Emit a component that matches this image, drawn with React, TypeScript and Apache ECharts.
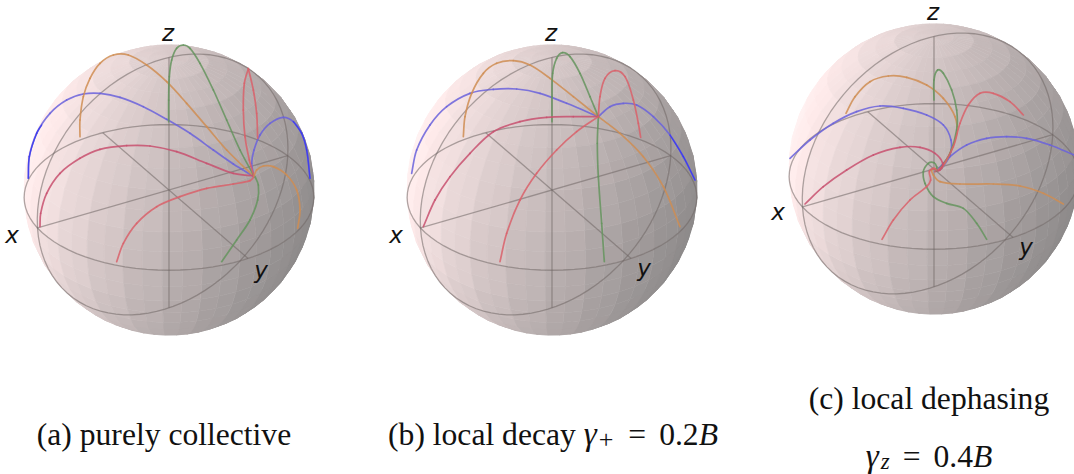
import React, { useEffect, useRef } from "react";
import * as echarts from "echarts";

// Trajectories in thirds of a pixel, relative to each panel's reading window.
type P = number[][];
const aBlueLeft: P = [[85,505],[88,440],[110,370],[150,310],[200,270],[250,252],[300,250],[360,262],[430,290],[500,328],[570,370],[640,420],[700,462],[762,500]];
const aBlueLeftTip: P = [[85,505],[88,440],[110,370],[125,345]];
const aBlueRight: P = [[762,500],[755,460],[762,420],[780,375],[810,340],[850,322],[880,335],[905,370],[920,420],[930,505]];
const aBlueRightTip: P = [[880,335],[905,370],[920,420],[930,505]];
const aOrangeTop: P = [[240,380],[240,330],[250,260],[270,205],[300,160],[340,135],[385,135],[440,165],[500,215],[560,280],[620,350],[680,420],[762,500]];
const aGreenTop: P = [[506,335],[506,270],[508,200],[515,150],[530,115],[550,105],[570,115],[600,160],[640,240],[680,330],[720,420],[762,498]];
const aRedTopRight: P = [[773,385],[770,310],[760,240],[745,176]];
const aRedTopLeft: P = [[745,176],[733,220],[730,300],[735,380],[748,450],[762,498]];
const aPurple: P = [[120,650],[122,610],[140,550],[180,490],[240,445],[300,418],[380,407],[450,408],[530,425],[620,460],[700,490],[762,498]];
const aRedLow: P = [[350,755],[370,700],[410,640],[470,590],[540,560],[620,535],[700,522],[750,512],[762,500]];
const aGreenLow: P = [[665,755],[710,690],[750,630],[773,570],[775,525],[765,500]];
const aOrangeLow: P = [[893,655],[900,600],[890,540],[860,495],[820,470],[790,468],[770,480],[762,498]];

const bBlueLeft: P = [[95,490],[110,420],[150,345],[200,290],[270,250],[340,238],[410,237],[480,250],[560,280],[655,320]];
const bBlueRight: P = [[655,320],[690,290],[730,280],[770,285],[820,320],[870,375],[910,440],[945,510]];
const bBlueRightTip: P = [[870,375],[910,440],[945,510]];
const bOrangeLeft: P = [[250,380],[255,320],[275,250],[310,190],[350,160],[400,152],[450,165],[510,205],[580,260],[655,320]];
const bOrangeRight: P = [[655,320],[720,370],[790,440],[850,530],[900,650]];
const bGreenTop: P = [[516,335],[516,260],[518,190],[530,145],[548,128],[570,140],[600,190],[630,260],[655,320]];
const bGreenLow: P = [[655,320],[652,400],[655,500],[665,640],[673,755]];
const bRedTop: P = [[655,320],[660,260],[675,205],[705,182],[735,200],[760,270],[775,340],[782,382]];
const bPurple: P = [[130,650],[165,570],[210,500],[270,430],[340,365],[420,335],[500,322],[580,320],[655,320]];
const bRedLow: P = [[360,755],[380,670],[420,570],[470,490],[530,420],[590,365],[655,320]];

const cBlueLeft: P = [[90,475],[150,420],[220,370],[290,335],[360,318],[430,325],[500,345],[550,375],[573,420],[570,465],[545,505],[530,513]];
const cBlueRight: P = [[530,513],[570,470],[620,435],[680,415],[740,410],[800,415],[870,435],[942,465]];
const cOrangeTop: P = [[258,340],[285,290],[330,245],[385,228],[440,232],[500,255],[550,295],[585,350],[590,400],[570,460],[545,505],[530,513]];
const cGreenTop: P = [[522,300],[522,240],[533,210],[550,220],[575,270],[590,330],[590,390],[570,460],[540,505]];
const cRedTop: P = [[790,345],[750,305],[700,280],[660,280],[625,315],[600,370],[580,440],[550,495],[530,513]];
const cPurple: P = [[135,612],[190,560],[260,510],[340,465],[420,442],[480,442],[525,460],[548,490],[540,510],[525,515]];
const cGreenLow: P = [[680,718],[650,670],[610,625],[560,610],[520,590],[495,550],[490,515],[505,490],[522,488],[530,500],[530,513]];
const cOrangeLow: P = [[910,612],[850,580],[780,558],[700,552],[600,552],[540,545],[520,525],[515,510],[525,505]];
const cRedLow: P = [[366,718],[400,660],[450,600],[500,560],[512,540],[508,515],[520,505],[530,510]];

const BLUE = "#6a62dc", VIVID = "#3a38f0", ORANGE = "#cf8d52", GREEN = "#65945e", RED = "#d9606a", PURPLE = "#c8506e";

const panels = [
  { cx: 169, cy: 190, ox: 0, oy: 10, labels: [["z",168,33],["x",12,235],["y",261,270]],
    curves: [[aBlueLeft,BLUE],[aBlueLeftTip,VIVID],[aBlueRight,BLUE],[aBlueRightTip,VIVID],[aOrangeTop,ORANGE],[aGreenTop,GREEN],[aRedTopRight,RED],[aRedTopLeft,RED],[aPurple,PURPLE],[aRedLow,RED],[aGreenLow,GREEN],[aOrangeLow,ORANGE]] },
  { cx: 552, cy: 190, ox: 380, oy: 10, labels: [["z",551,33],["x",396,235],["y",644,268]],
    curves: [[bBlueLeft,BLUE],[bBlueRight,BLUE],[bBlueRightTip,VIVID],[bOrangeLeft,ORANGE],[bOrangeRight,ORANGE],[bGreenTop,GREEN],[bGreenLow,GREEN],[bRedTop,RED],[bPurple,PURPLE],[bRedLow,RED]] },
  { cx: 934, cy: 169, ox: 760, oy: 0, labels: [["z",933,12],["x",778,212],["y",1026,247]],
    curves: [[cBlueLeft,BLUE],[cBlueRight,BLUE],[cOrangeTop,ORANGE],[cGreenTop,GREEN],[cRedTop,RED],[cPurple,PURPLE],[cGreenLow,GREEN],[cOrangeLow,ORANGE],[cRedLow,RED]] },
] as any[];

const captions = [
  { text: "(a) purely collective", x: 164, y: 434 },
  { text: "(b) local decay {g|γ}{s|+}{e|=}0.2{i|B}", x: 553, y: 434 },
  { text: "(c) local dephasing", x: 929, y: 398 },
  { text: "{g|γ}{s2|z}{e|=}0.4{i|B}", x: 929, y: 456 },
];

// Camera of the sphere: every panel shares one perspective view.
const D = 8.5, K = 1225;
const dir = [0.433, 0.75, 0.5];
const right = [-0.866, 0.5, 0];
const up = [-0.25, -0.433, 0.866];
const dot = (a: number[], b: number[]) => a[0]*b[0]+a[1]*b[1]+a[2]*b[2];
const project = (p: number[], cx: number, cy: number) => {
  const s = K / (D - dot(p, dir));
  return [cx + s * dot(p, right), cy - s * dot(p, up)];
};
const rad = Math.PI / 180;
const onSphere = (lat: number, lon: number) => [Math.cos(lat*rad)*Math.cos(lon*rad), Math.cos(lat*rad)*Math.sin(lon*rad), Math.sin(lat*rad)];
const shadeOf = (n: number[]) => {
  const nx = dot(n, right), ny = dot(n, up);
  return 186 - 46 * nx + 18 * ny + (nx < 0 ? 8 * nx * nx : 0);
};

function facetsFor(cx: number, cy: number) {
  const out: { pts: number[][]; fill: string; depth: number }[] = [];
  const fineLon = 7.2, fineLat = 7.5, coarseLon = 14.4, coarseLat = 15;
  for (let la = -90; la < 90; la += fineLat) {
    for (let lo = 0; lo < 360 - 0.01; lo += fineLon) {
      const mid = onSphere(la + fineLat/2, lo + fineLon/2);
      const depth = dot(mid, dir);
      if (depth < -0.25) continue;
      const cLa = Math.floor((la + 90) / coarseLat) * coarseLat - 90 + coarseLat/2;
      const cLo = Math.floor(lo / coarseLon) * coarseLon + coarseLon/2;
      const v = 0.6 * shadeOf(mid) + 0.4 * shadeOf(onSphere(cLa, cLo));
      const r = Math.round(Math.min(255, v + 5 + (v - 150) * 0.18));
      const g = Math.round(v);
      out.push({
        pts: [onSphere(la,lo), onSphere(la,lo+fineLon), onSphere(la+fineLat,lo+fineLon), onSphere(la+fineLat,lo)].map((p) => project(p, cx, cy)),
        fill: `rgb(${r},${g},${g})`,
        depth,
      });
    }
  }
  return out.sort((a, b) => a.depth - b.depth);
}

function circle(fn: (t: number) => number[], cx: number, cy: number) {
  const pts: number[][] = [];
  for (let t = 0; t <= 360; t += 4) pts.push(project(fn(t * rad), cx, cy));
  return pts;
}

// One custom series per curve: each read point starts one bezier segment, with chord-scaled tangents.
function curveSeries(data: number[][], color: string) {
  return {
    type: "custom", coordinateSystem: "cartesian2d", silent: true, clip: true, z: 4,
    data,
    renderItem: (params: any, api: any) => {
      const i = params.dataIndex;
      if (i >= data.length - 1) return null;
      const at = (k: number) => api.coord(data[Math.max(0, Math.min(data.length - 1, k))]);
      const p0 = at(i - 1), p1 = at(i), p2 = at(i + 1), p3 = at(i + 2);
      const d = Math.hypot(p2[0] - p1[0], p2[1] - p1[1]);
      const tangent = (a: number[], b: number[]) => {
        const l = Math.hypot(b[0] - a[0], b[1] - a[1]) || 1;
        return [(b[0] - a[0]) / l, (b[1] - a[1]) / l];
      };
      const t1 = tangent(p0, p2), t2 = tangent(p1, p3);
      return {
        type: "bezierCurve",
        shape: {
          x1: p1[0], y1: p1[1], x2: p2[0], y2: p2[1],
          cpx1: p1[0] + t1[0] * d / 3, cpy1: p1[1] + t1[1] * d / 3,
          cpx2: p2[0] - t2[0] * d / 3, cpy2: p2[1] - t2[1] * d / 3,
        },
        style: { stroke: color, lineWidth: color === VIVID ? 1.4 : 1.7, fill: null, opacity: 0.85, lineCap: "round" },
      };
    },
  };
}

export default function App() {
  const ref = useRef<HTMLDivElement>(null);
  useEffect(() => {
    document.body.style.margin = "0";
    const chart = echarts.init(ref.current!, undefined, { renderer: "svg" });
    const series: any[] = [];
    const graphic: any[] = [];
    const frameStyle = { color: "#6f6664", width: 1.3, opacity: 0.55 };
    panels.forEach((pn) => {
      const facets = facetsFor(pn.cx, pn.cy);
      series.push({
        type: "custom", coordinateSystem: "cartesian2d", clip: true, silent: true,
        data: facets.map((f, i) => [f.pts[0][0], f.pts[0][1], i]),
        renderItem: (_: any, api: any) => {
          const f = facets[api.value(2)];
          return { type: "polygon", shape: { points: f.pts.map((q) => api.coord(q)) }, style: { fill: f.fill, stroke: f.fill, lineWidth: 0.6 } };
        },
      });
      const frames = [
        circle((t) => [Math.cos(t), Math.sin(t), 0], pn.cx, pn.cy),
        circle((t) => [Math.cos(t), 0, Math.sin(t)], pn.cx, pn.cy),
        [project([1,0,0], pn.cx, pn.cy), project([-1,0,0], pn.cx, pn.cy)],
        [project([0,1,0], pn.cx, pn.cy), project([0,-1,0], pn.cx, pn.cy)],
        [project([0,0,1], pn.cx, pn.cy), project([0,0,-1], pn.cx, pn.cy)],
      ];
      frames.forEach((data) => series.push({ type: "line", data, showSymbol: false, silent: true, lineStyle: frameStyle, z: 3 }));
      pn.curves.forEach(([arr, color]: any) => series.push(
        curveSeries(arr.map((q: number[]) => [q[0] / 3 + pn.ox, q[1] / 3 + pn.oy]), color),
      ));
      pn.labels.forEach(([text, x, y]: any) => graphic.push({
        type: "text", x, y, z: 10,
        style: { text, fill: "#111", font: "italic 23px 'DejaVu Sans'", align: "center", verticalAlign: "middle" },
      }));
    });
    captions.forEach((c) => graphic.push({
      type: "text", x: c.x, y: c.y, z: 10,
      style: {
        text: c.text, fill: "#111", align: "center", verticalAlign: "middle",
        font: "31.6px 'Liberation Serif'",
        rich: {
          i: { font: "italic 31.6px 'Liberation Serif'", fill: "#111" },
          g: { font: "italic 33px 'Liberation Serif'", fill: "#111", padding: [0, 2, 0, 0] },
          e: { font: "31.6px 'Liberation Serif'", fill: "#111", padding: [0, 13, 0, 13] },
          s: { font: "26px 'Liberation Serif'", fill: "#111", verticalAlign: "bottom", padding: [10, 2, 0, 0] },
          s2: { font: "italic 23px 'Liberation Serif'", fill: "#111", verticalAlign: "bottom", padding: [10, 0, 0, 0] },
        },
      },
    }));
    chart.setOption({
      animation: false,
      backgroundColor: "#ffffff",
      grid: { left: 0, right: 0, top: 0, bottom: 0 },
      xAxis: { type: "value", min: 0, max: 1074, show: false },
      yAxis: { type: "value", min: 0, max: 474, inverse: true, show: false },
      graphic,
      series,
    });
    return () => chart.dispose();
  }, []);
  return <div ref={ref} style={{ width: 1074, height: 474 }} />;
}
